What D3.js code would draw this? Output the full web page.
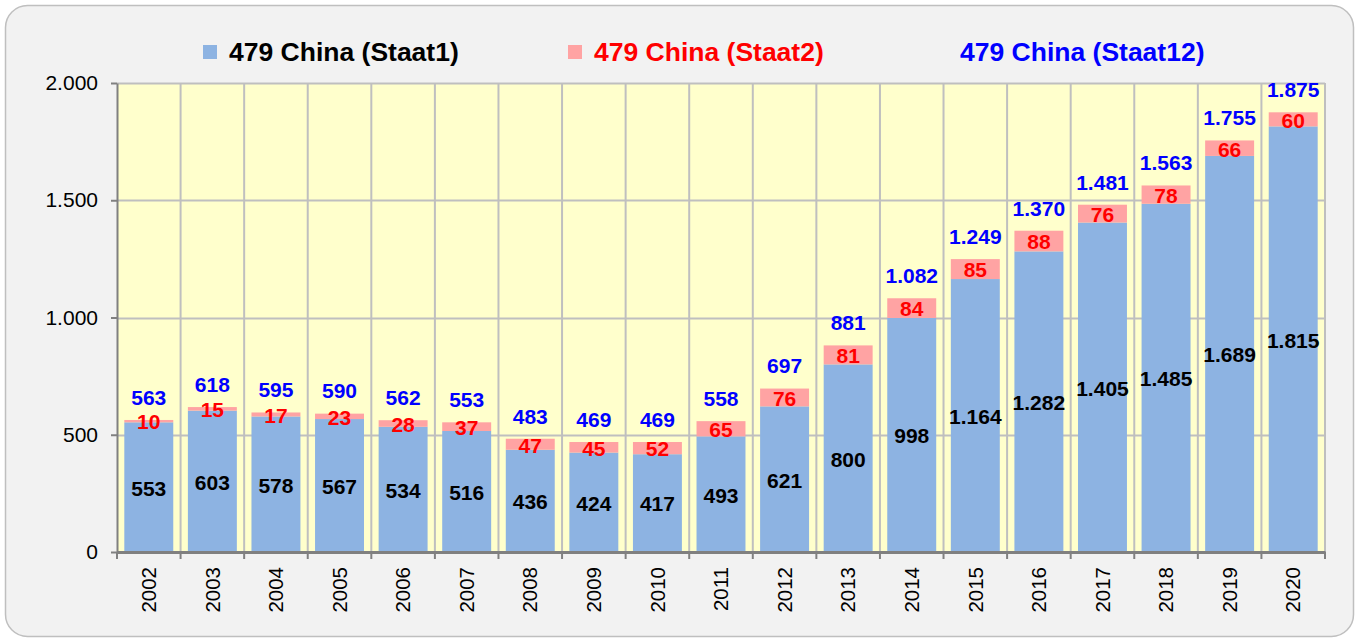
<!DOCTYPE html>
<html>
<head>
<meta charset="utf-8">
<script src="https://cdn.jsdelivr.net/npm/d3@7"></script>
<style>
  body { margin: 0; background: #fff; }
  svg text { font-family: "Liberation Sans", Arial, sans-serif; }
</style>
</head>
<body>
<svg id="chart"></svg>
<script>
const years = ["2002","2003","2004","2005","2006","2007","2008","2009","2010","2011",
               "2012","2013","2014","2015","2016","2017","2018","2019","2020"];
const staat1 = [553,603,578,567,534,516,436,424,417,493,621,800,998,1164,1282,1405,1485,1689,1815];
const staat2 = [10,15,17,23,28,37,47,45,52,65,76,81,84,85,88,76,78,66,60];
const staat12 = [563,618,595,590,562,553,483,469,469,558,697,881,1082,1249,1370,1481,1563,1755,1875];
const yTicks = [0,500,1000,1500,2000];
const seriesNames = ["479 China (Staat1)", "479 China (Staat2)", "479 China (Staat12)"];

const W = 1359, H = 642;
const de = d3.formatLocale({ decimal: ",", thousands: ".", grouping: [3], currency: ["", "€"] });
const fmt = de.format(",d");

const svg = d3.select('#chart')
  .attr("width", W)
  .attr("height", H)
  .attr("viewBox", `0 0 ${W} ${H}`);

// outer frame
svg.append('rect')
  .attr('x', 5.5).attr('y', 5.5)
  .attr('width', W - 11).attr('height', H - 11)
  .attr('rx', 22)
  .attr('fill', '#f2f2f2')
  .attr('stroke', '#bfbfbf')
  .attr('stroke-width', 1.5);

const plot = { left: 117, right: 1325, top: 83, bottom: 552 };

const x = d3.scaleBand()
  .domain(years)
  .range([plot.left, plot.right])
  .paddingInner(0.23)
  .paddingOuter(0.115);

const xEdge = d3.scaleLinear()
  .domain([0, years.length])
  .range([plot.left, plot.right]);

const y = d3.scaleLinear()
  .domain([0, 2000])
  .range([plot.bottom, plot.top]);

// plot background
svg.append('rect')
  .attr('x', plot.left).attr('y', plot.top)
  .attr('width', plot.right - plot.left)
  .attr('height', plot.bottom - plot.top)
  .attr('fill', '#ffffcc');

// horizontal grid
svg.append('g')
  .selectAll('line')
  .data(yTicks.slice(1))
  .enter().append('line')
  .attr('x1', plot.left).attr('x2', plot.right)
  .attr('y1', d => Math.round(y(d)) + 0.5).attr('y2', d => Math.round(y(d)) + 0.5)
  .attr('stroke', '#bfbfbf').attr('stroke-width', 2);

// vertical grid at category boundaries
svg.append('g')
  .selectAll('line')
  .data(d3.range(1, years.length + 1))
  .enter().append('line')
  .attr('x1', d => xEdge(d)).attr('x2', d => xEdge(d))
  .attr('y1', plot.top).attr('y2', plot.bottom)
  .attr('stroke', '#bfbfbf').attr('stroke-width', 2);

// bars
const groups = svg.append('g')
  .selectAll('g')
  .data(years.map((yr, i) => ({ yr, a: staat1[i], b: staat2[i], t: staat12[i] })))
  .enter().append('g');

groups.append('rect')
  .attr('x', d => x(d.yr))
  .attr('width', x.bandwidth())
  .attr('y', d => y(d.a))
  .attr('height', d => y(0) - y(d.a))
  .attr('fill', '#8db3e2');

groups.append('rect')
  .attr('x', d => x(d.yr))
  .attr('width', x.bandwidth())
  .attr('y', d => y(d.a + d.b))
  .attr('height', d => y(d.a) - y(d.a + d.b))
  .attr('fill', '#ffa3a3');

// axes
const yAxis = svg.append('g')
  .attr('transform', `translate(${plot.left},0)`)
  .call(d3.axisLeft(y).tickValues(yTicks).tickFormat(fmt).tickSize(6).tickSizeOuter(0))
  .attr('font-size', 21)
  .attr('font-family', '"Liberation Sans", Arial, sans-serif');
yAxis.select('.domain').attr('stroke', '#808080').attr('stroke-width', 2);
yAxis.selectAll('.tick line').attr('stroke', '#808080').attr('stroke-width', 2);
yAxis.selectAll('.tick text')
  .attr('x', -19)
  .attr('fill', '#000');

const xAxis = svg.append('g')
  .attr('transform', `translate(0,${plot.bottom})`)
  .call(d3.axisBottom(x).tickSize(0).tickSizeOuter(0))
  .attr('font-size', 20.5)
  .attr('font-family', '"Liberation Sans", Arial, sans-serif');
xAxis.select('.domain').attr('stroke', '#808080').attr('stroke-width', 3);
xAxis.selectAll('.tick text')
  .attr('transform', 'rotate(-90)')
  .attr('x', -15)
  .attr('y', 0)
  .attr('dy', '0.35em')
  .attr('text-anchor', 'end')
  .attr('fill', '#000');

svg.append('g')
  .selectAll('line')
  .data(d3.range(0, years.length + 1))
  .enter().append('line')
  .attr('x1', d => xEdge(d)).attr('x2', d => xEdge(d))
  .attr('y1', plot.bottom).attr('y2', plot.bottom + 7)
  .attr('stroke', '#808080').attr('stroke-width', 2);

// value labels
function styleLab(sel) {
  return sel
    .attr('font-family', '"Liberation Sans", Arial, sans-serif')
    .attr('font-weight', 'bold')
    .attr('font-size', 21)
    .attr('text-anchor', 'middle')
    .attr('dy', '0.35em');
}

styleLab(groups.append('text'))
  .attr('x', d => x(d.yr) + x.bandwidth() / 2)
  .attr('y', d => (y(0) + y(d.a)) / 2 + 1)
  .attr('fill', '#000')
  .text(d => fmt(d.a));

styleLab(groups.append('text'))
  .attr('x', d => x(d.yr) + x.bandwidth() / 2)
  .attr('y', d => (y(d.a) + y(d.a + d.b)) / 2 + 1)
  .attr('fill', '#ff0000')
  .text(d => fmt(d.b));

styleLab(groups.append('text'))
  .attr('x', d => x(d.yr) + x.bandwidth() / 2)
  .attr('y', d => y(d.t) - 22.5)
  .attr('fill', '#0000ff')
  .text(d => fmt(d.t));

// legend
const legend = [
  { name: seriesNames[0], sw: '#8db3e2', color: '#000', x: 203 },
  { name: seriesNames[1], sw: '#ffa3a3', color: '#ff0000', x: 568 },
  { name: seriesNames[2], sw: null, color: '#0000ff', x: 934 }
];
const lg = svg.append('g').selectAll('g').data(legend).enter().append('g');
lg.filter(d => d.sw).append('rect')
  .attr('x', d => d.x).attr('y', 45)
  .attr('width', 14).attr('height', 14)
  .attr('fill', d => d.sw);
lg.append('text')
  .attr('x', d => d.x + 26)
  .attr('y', 52)
  .attr('dy', '0.35em')
  .attr('fill', d => d.color)
  .attr('font-family', '"Liberation Sans", Arial, sans-serif')
  .attr('font-weight', 'bold')
  .attr('font-size', 26.5)
  .text(d => d.name);
</script>
</body>
</html>
